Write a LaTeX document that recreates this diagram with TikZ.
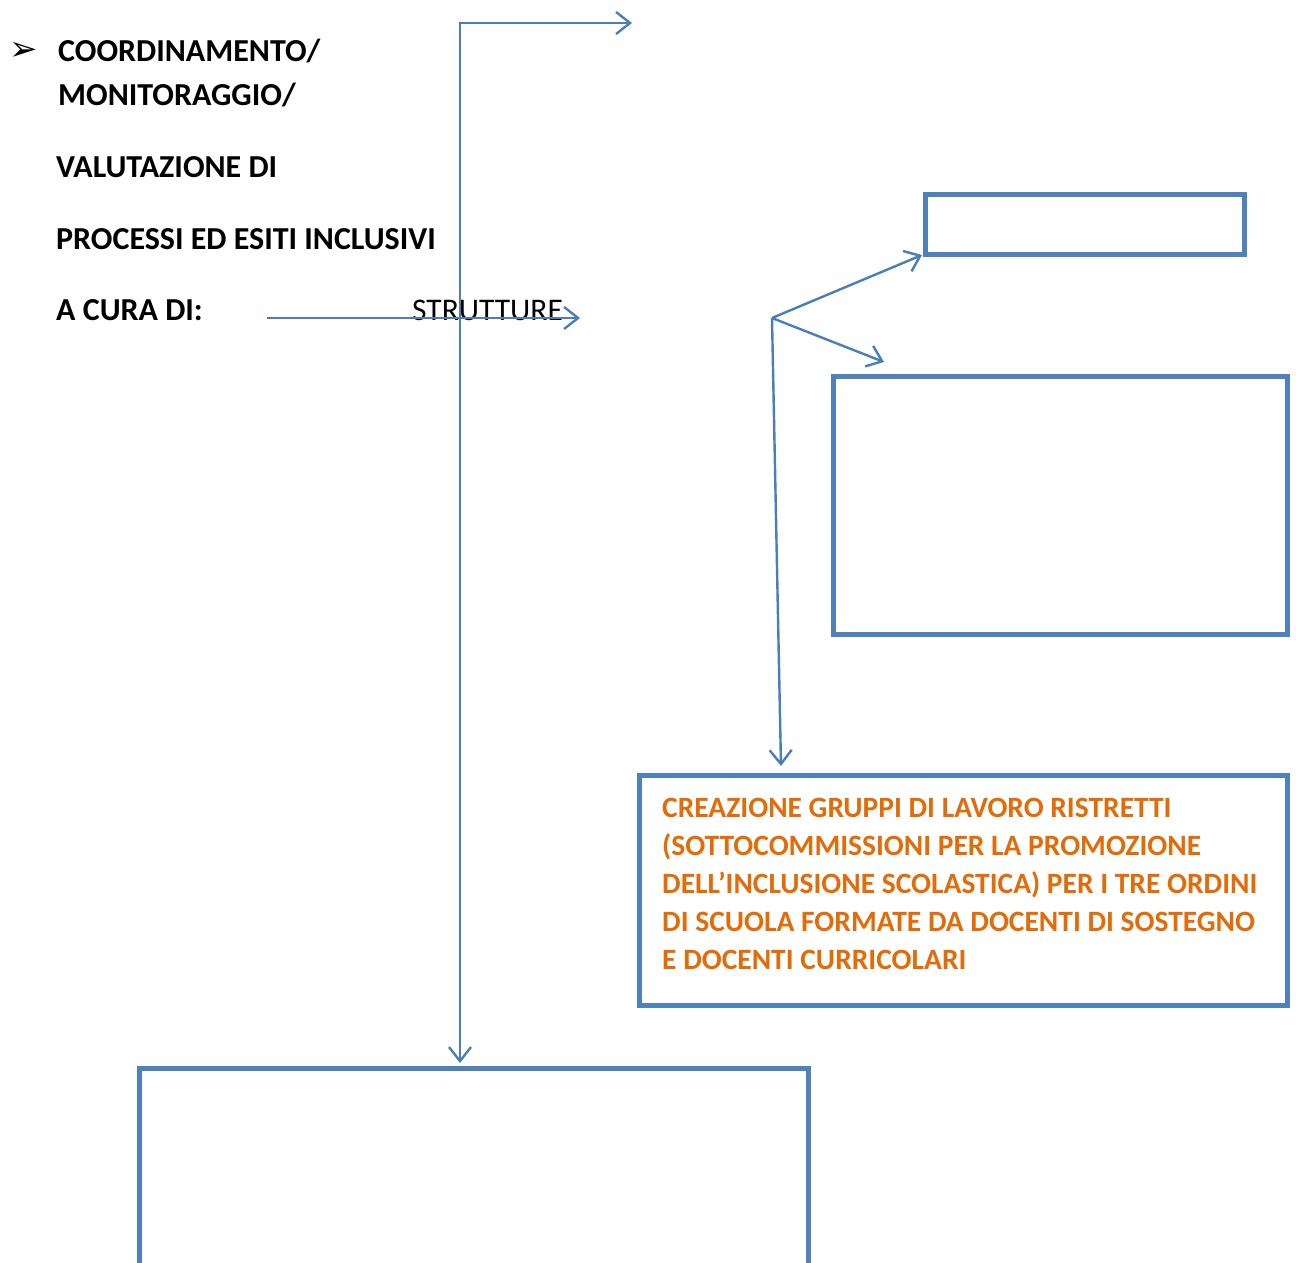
\documentclass[tikz,border=0pt]{standalone}
\usepackage{fontspec}
\setmainfont{Carlito}
\newfontfamily\symfont{DejaVu Sans}
\usetikzlibrary{arrows.meta}
\definecolor{lineblue}{HTML}{4A7EBB}
\definecolor{boxblue}{HTML}{4F81BD}
\definecolor{txtorange}{HTML}{E36C09}
\tikzset{
  conn/.style={draw=lineblue, line width=2.4pt, -{Straight Barb[length=14pt,width=22pt,line width=2.4pt]}},
  emptybox/.style={draw=boxblue, line width=5pt, outer sep=0pt, inner sep=0pt, anchor=north west},
  headtxt/.style={anchor=base west, inner sep=0pt, font=\fontsize{32}{38}\selectfont\bfseries},
  orangetxt/.style={anchor=base west, inner sep=0pt, text=txtorange, font=\fontsize{29.5}{38}\selectfont\bfseries}
}
\begin{document}
\begin{tikzpicture}[x=1pt,y=-1pt]
\useasboundingbox (0,0) rectangle (1296,1263);
% bullet and heading text
\node[anchor=base west, inner sep=0pt, font=\symfont\fontsize{34}{40}\selectfont] (bul) at (9,61) {➢};
\node[headtxt] (t1) at (58,62) {COORDINAMENTO/};
\node[headtxt] (t2) at (58,106) {MONITORAGGIO/};
\node[headtxt] (t3) at (56,177) {VALUTAZIONE DI};
\node[headtxt] (t4) at (56,249) {PROCESSI ED ESITI INCLUSIVI};
\node[headtxt] (t5) at (56,320) {A CURA DI:};
\node[anchor=base west, inner sep=0pt, font=\fontsize{31.5}{38}\selectfont] (strut) at (412,320) {STRUTTURE};
% coordinates
\coordinate (a0) at (267,318);
\coordinate (a1) at (580,318);
\coordinate (topr) at (632,23);
\coordinate (corner) at (460,23);
\coordinate (bottomv) at (460,1063);
\coordinate (hub) at (772,318);
% boxes
\node[emptybox, minimum width=319pt, minimum height=60pt] (b1) at (925,194) {};
\node[emptybox, minimum width=454pt, minimum height=258pt] (b2) at (833,376) {};
\node[emptybox, minimum width=648pt, minimum height=230pt] (b3) at (639,775) {};
\draw[draw=boxblue, line width=5pt] (139,1290) -- (139,1068) coordinate (b4tl) -- (808,1068) -- (808,1290);
% orange text
\node[orangetxt] (o1) at (662,817) {CREAZIONE GRUPPI DI LAVORO RISTRETTI};
\node[orangetxt] (o2) at (662,855) {(SOTTOCOMMISSIONI PER LA PROMOZIONE};
\node[orangetxt] (o3) at (662,893) {DELL’INCLUSIONE SCOLASTICA) PER I TRE ORDINI};
\node[orangetxt] (o4) at (662,931) {DI SCUOLA FORMATE DA DOCENTI DI SOSTEGNO};
\node[orangetxt] (o5) at (662,969) {E DOCENTI CURRICOLARI};
% connectors
\draw[conn] (a0) -- (a1);
\draw[conn, {Straight Barb[length=14pt,width=22pt,line width=2.4pt]}-{Straight Barb[length=14pt,width=22pt,line width=2.4pt]}] (topr) -- (corner) -- (bottomv);
\draw[conn] (hub) -- (922,255);
\draw[conn] (hub) -- (884,362);
\draw[conn] (hub) -- (781,766);
\end{tikzpicture}
\end{document}
